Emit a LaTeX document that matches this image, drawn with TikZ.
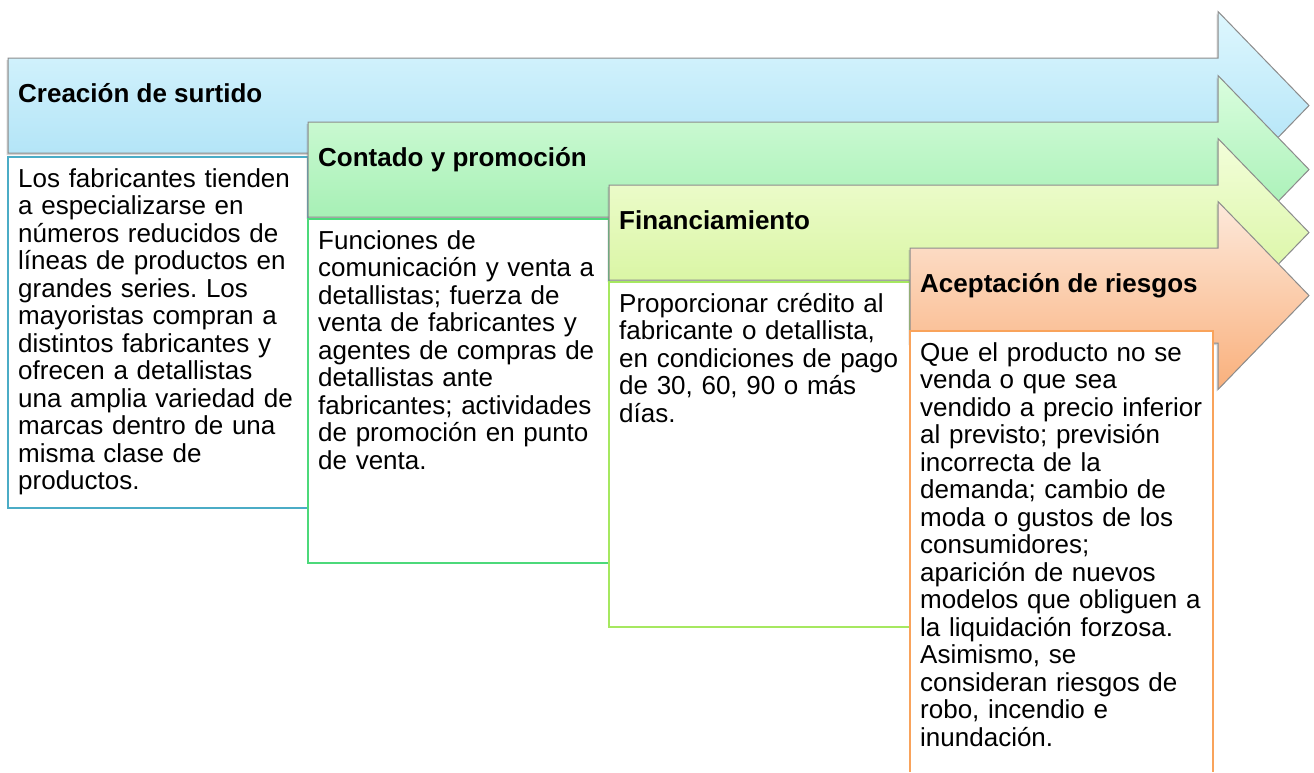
\documentclass[tikz,border=0pt]{standalone}
\usepackage{fontspec}
\setmainfont{Liberation Sans}
\usepackage{tikz}
\usetikzlibrary{shadows}
\frenchspacing
\definecolor{bandgray}{RGB}{140,140,140}
\definecolor{surtidotop}{RGB}{222,247,254}
\definecolor{surtidobot}{RGB}{166,223,245}
\definecolor{surtidoline}{RGB}{75,172,198}
\definecolor{promotop}{RGB}{218,254,222}
\definecolor{promobot}{RGB}{150,235,168}
\definecolor{promoline}{RGB}{76,217,122}
\definecolor{financtop}{RGB}{243,254,218}
\definecolor{financbot}{RGB}{210,243,148}
\definecolor{financline}{RGB}{166,232,96}
\definecolor{riesgotop}{RGB}{253,233,219}
\definecolor{riesgobot}{RGB}{249,176,124}
\definecolor{riesgoline}{RGB}{249,163,91}

\begin{document}
\begin{tikzpicture}[
    x=1pt, y=-1pt,
    band/.style={draw=bandgray, line width=1pt, line join=miter,
        drop shadow={shadow xshift=-1.5pt, shadow yshift=-2pt, opacity=0.35}},
    descbox/.style={fill=white, line width=1.5pt},
    headtext/.style={anchor=base west, inner sep=0pt, font=\fontsize{26}{30}\selectfont\bfseries},
    bodytext/.style={anchor=north west, inner sep=0pt, text width=300pt, align=left,
        font=\fontsize{26}{27.5}\selectfont}
]
\useasboundingbox (0,0) rectangle (1314,772);
\fill[white] (0,0) rectangle (1314,772);

% 1. Creacion de surtido
\begin{scope}
    \shade[band, top color=surtidotop, bottom color=surtidobot]
        (8,58) -- (1218,58) -- (1218,11.5) -- (1309,105.5) -- (1218,199.5) -- (1218,153) -- (8,153) -- cycle;
    \node[headtext] (h1) at (18,102) {Creación de surtido};
    \draw[descbox, draw=surtidoline] (8,157) rectangle (308,508);
    \node[bodytext] (b1) at (18,168) {Los fabricantes tienden\\
        a especializarse en\\
        números reducidos de\\
        líneas de productos en\\
        grandes series. Los\\
        mayoristas compran a\\
        distintos fabricantes y\\
        ofrecen a detallistas\\
        una amplia variedad de\\
        marcas dentro de una\\
        misma clase de\\
        productos.};
\end{scope}

% 2. Contado y promocion
\begin{scope}
    \shade[band, top color=promotop, bottom color=promobot]
        (308,122) -- (1218,122) -- (1218,75.5) -- (1309,169.5) -- (1218,263.5) -- (1218,217) -- (308,217) -- cycle;
    \node[headtext] (h2) at (318,166) {Contado y promoción};
    \draw[descbox, draw=promoline] (308,219) rectangle (609,563);
    \node[bodytext] (b2) at (318,230) {Funciones de\\
        comunicación y venta a\\
        detallistas; fuerza de\\
        venta de fabricantes y\\
        agentes de compras de\\
        detallistas ante\\
        fabricantes; actividades\\
        de promoción en punto\\
        de venta.};
\end{scope}

% 3. Financiamiento
\begin{scope}
    \shade[band, top color=financtop, bottom color=financbot]
        (609,185) -- (1218,185) -- (1218,138.5) -- (1309,232.5) -- (1218,326.5) -- (1218,280) -- (609,280) -- cycle;
    \node[headtext] (h3) at (619,229) {Financiamiento};
    \draw[descbox, draw=financline] (609,282) rectangle (910,627);
    \node[bodytext] (b3) at (619,293) {Proporcionar crédito al\\
        fabricante o detallista,\\
        en condiciones de pago\\
        de 30, 60, 90 o más\\
        días.};
\end{scope}

% 4. Aceptacion de riesgos
\begin{scope}
    \shade[band, top color=riesgotop, bottom color=riesgobot]
        (910,248) -- (1218,248) -- (1218,201.5) -- (1309,295.5) -- (1218,389.5) -- (1218,343) -- (910,343) -- cycle;
    \node[headtext] (h4) at (920,292) {Aceptación de riesgos};
    \fill[white] (910,331) rectangle (1213,772);
    \draw[line width=1.5pt, draw=riesgoline] (910,772) -- (910,331) -- (1213,331) -- (1213,772);
    \node[bodytext] (b4) at (920,342) {Que el producto no se\\
        venda o que sea\\
        vendido a precio inferior\\
        al previsto; previsión\\
        incorrecta de la\\
        demanda; cambio de\\
        moda o gustos de los\\
        consumidores;\\
        aparición de nuevos\\
        modelos que obliguen a\\
        la liquidación forzosa.\\
        Asimismo, se\\
        consideran riesgos de\\
        robo, incendio e\\
        inundación.};
\end{scope}

\end{tikzpicture}
\end{document}
